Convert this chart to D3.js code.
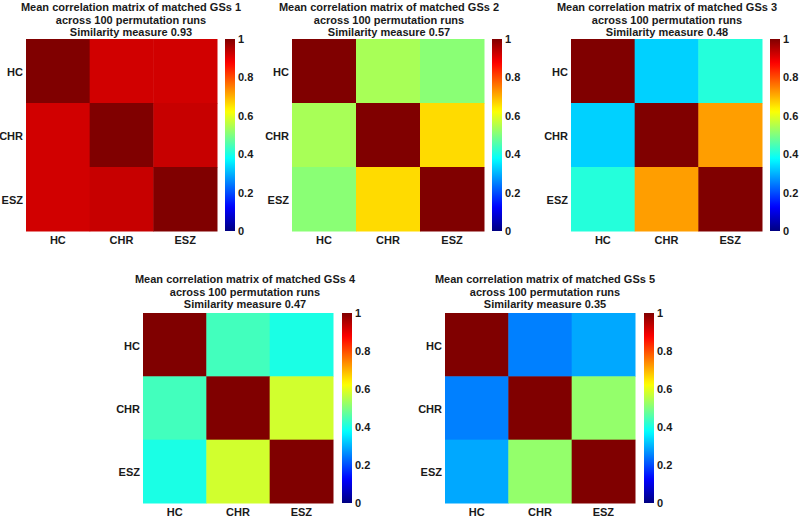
<!DOCTYPE html>
<html>
<head>
<meta charset="utf-8">
<script src="https://cdn.jsdelivr.net/npm/d3@7"></script>
<style>
  html, body { margin: 0; padding: 0; background: #fff; }
  svg { display: block; }
  text { font-family: "Liberation Sans", Arial, sans-serif; font-weight: bold; fill: #1a1a1a; }
</style>
</head>
<body>
<svg id="chart" width="800" height="517"></svg>
<script>
// ---- data ----
const categories = ["HC", "CHR", "ESZ"];
const gs1 = [[1.00, 0.92, 0.92], [0.92, 1.00, 0.93], [0.92, 0.93, 1.00]];
const gs2 = [[1.00, 0.54, 0.51], [0.54, 1.00, 0.66], [0.51, 0.66, 1.00]];
const gs3 = [[1.00, 0.33, 0.41], [0.33, 1.00, 0.72], [0.41, 0.72, 1.00]];
const gs4 = [[1.00, 0.44, 0.40], [0.44, 1.00, 0.58], [0.40, 0.58, 1.00]];
const gs5 = [[1.00, 0.25, 0.29], [0.25, 1.00, 0.52], [0.29, 0.52, 1.00]];
const matrices = [gs1, gs2, gs3, gs4, gs5];
const gsIndex = [1, 2, 3, 4, 5];
const similarity = [0.93, 0.57, 0.48, 0.47, 0.35];
const colorbarTicks = [0, 0.2, 0.4, 0.6, 0.8, 1];

// ---- layout (positions only) ----
const layout = [
  { x: 26,  y: 39,  w: 191, h: 192, cb: 225, tcx: 131, ty: 11 },
  { x: 292, y: 39,  w: 192, h: 192, cb: 492, tcx: 389, ty: 11 },
  { x: 571, y: 39,  w: 191, h: 192, cb: 770, tcx: 667, ty: 11 },
  { x: 143, y: 313, w: 190, h: 190, cb: 342, tcx: 245, ty: 283 },
  { x: 445, y: 313, w: 190, h: 190, cb: 644, tcx: 545, ty: 283 }
];

// jet colormap
const jet = d3.scaleLinear()
  .domain([0, 0.125, 0.375, 0.625, 0.875, 1])
  .range(["#000080", "#0000ff", "#00ffff", "#ffff00", "#ff0000", "#800000"])
  .interpolate(d3.interpolateRgb)
  .clamp(true);

const svg = d3.select("#chart");
const defs = svg.append("defs");
const grad = defs.append("linearGradient")
  .attr("id", "jetGrad").attr("x1", 0).attr("y1", 1).attr("x2", 0).attr("y2", 0);
d3.range(0, 1.0001, 0.02).forEach(t => {
  grad.append("stop").attr("offset", t).attr("stop-color", jet(t));
});

matrices.forEach((m, k) => {
  const L = layout[k];
  const g = svg.append("g");
  const xs = d3.scaleBand().domain(categories).range([L.x, L.x + L.w]);
  const ys = d3.scaleBand().domain(categories).range([L.y, L.y + L.h]);

  // cells
  const cells = [];
  m.forEach((row, i) => row.forEach((v, j) => cells.push({ r: categories[i], c: categories[j], v })));
  g.selectAll("rect.cell").data(cells).join("rect")
    .attr("class", "cell")
    .attr("x", d => xs(d.c))
    .attr("y", d => ys(d.r))
    .attr("width", xs.bandwidth() + 0.5)
    .attr("height", ys.bandwidth() + 0.5)
    .attr("fill", d => jet(d.v));

  // axes labels
  g.selectAll("text.yl").data(categories).join("text")
    .attr("class", "yl")
    .attr("x", L.x - 3)
    .attr("y", d => ys(d) + ys.bandwidth() / 2 + 2)
    .attr("text-anchor", "end")
    .attr("dominant-baseline", "middle")
    .attr("font-size", 11)
    .text(d => d);
  g.selectAll("text.xl").data(categories).join("text")
    .attr("class", "xl")
    .attr("x", d => xs(d) + xs.bandwidth() / 2)
    .attr("y", L.y + L.h + 13)
    .attr("text-anchor", "middle")
    .attr("font-size", 11)
    .text(d => d);

  // title
  const lines = [
    "Mean correlation matrix of matched GSs " + gsIndex[k],
    "across 100 permutation runs",
    "Similarity measure " + similarity[k].toFixed(2)
  ];
  g.selectAll("text.title").data(lines).join("text")
    .attr("class", "title")
    .attr("x", L.tcx)
    .attr("y", (d, i) => L.ty + i * 12.5)
    .attr("text-anchor", "middle")
    .attr("font-size", 11)
    .text(d => d);

  // colorbar
  const cs = d3.scaleLinear().domain([0, 1]).range([L.y + L.h, L.y]);
  g.append("rect")
    .attr("x", L.cb).attr("y", cs(1))
    .attr("width", 10).attr("height", cs(0) - cs(1))
    .attr("fill", "url(#jetGrad)");
  const ax = g.append("g")
    .attr("transform", `translate(${L.cb + 10},0)`)
    .call(d3.axisRight(cs).tickValues(colorbarTicks).tickSize(0).tickPadding(3).tickFormat(d => String(d)));
  ax.select(".domain").remove();
  ax.selectAll("text")
    .attr("font-size", 11)
    .attr("font-family", "\"Liberation Sans\", Arial, sans-serif")
    .attr("font-weight", "bold")
    .attr("fill", "#1a1a1a");
});
</script>
</body>
</html>
